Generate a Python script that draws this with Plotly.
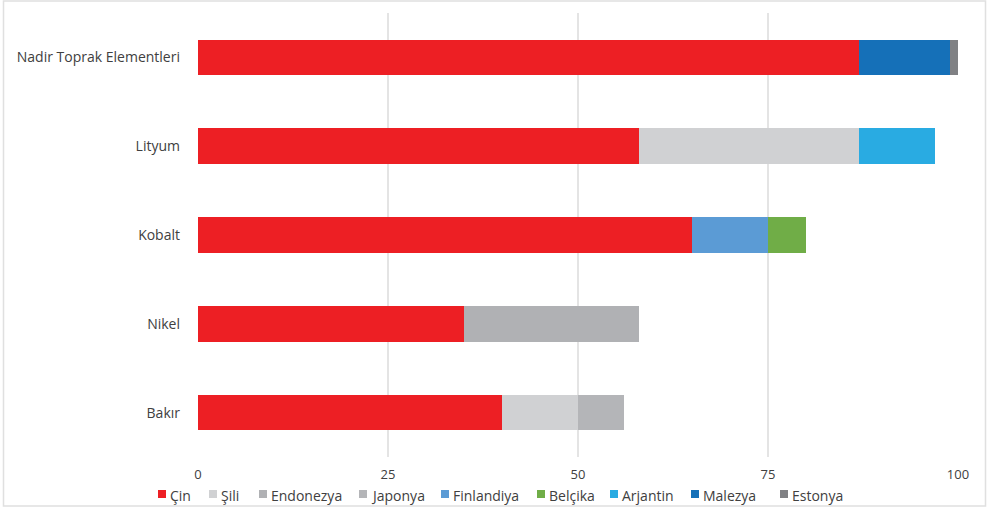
import plotly.graph_objects as go

# Minerals (top to bottom) and each country's share, in percent
minerals = ["Nadir Toprak Elementleri", "Lityum", "Kobalt", "Nikel", "Bakır"]
countries = ["Çin", "Şili", "Endonezya", "Japonya", "Finlandiya", "Belçika", "Arjantin", "Malezya", "Estonya"]

cin = [87, 58, 65, 35, 40]
sili = [0, 29, 0, 0, 10]
endonezya = [0, 0, 0, 23, 0]
japonya = [0, 0, 0, 0, 6]
finlandiya = [0, 0, 10, 0, 0]
belcika = [0, 0, 5, 0, 0]
arjantin = [0, 10, 0, 0, 0]
malezya = [12, 0, 0, 0, 0]
estonya = [1, 0, 0, 0, 0]

series = [cin, sili, endonezya, japonya, finlandiya, belcika, arjantin, malezya, estonya]
colors = ["#ED1F24", "#D0D1D3", "#B0B1B4", "#B4B5B8", "#5B9BD5",
          "#70AD47", "#29ABE2", "#1570B8", "#808184"]

tick_vals = [0, 25, 50, 75, 100]

# Left edge (px) of each legend key, laid out in one row under the axis
legend_x = [158, 209, 259, 359, 441, 537, 610, 691, 780]
LEGEND_Y = 494
KEY = 8

fig = go.Figure()
for name, vals, col in zip(countries, series, colors):
    fig.add_trace(go.Bar(
        y=minerals, x=vals, name=name, orientation="h",
        marker=dict(color=col, line=dict(width=0)),
        width=0.4, showlegend=False,
    ))

W, H = 989, 511
L, R, T, B = 198, 31, 13, 54
pw, ph = W - L - R, H - T - B


def px_x(p):
    return (p - L) / pw


def px_y(p):
    return (H - B - p) / ph


shapes = [dict(
    type="rect", xref="paper", yref="paper",
    x0=px_x(3.5), x1=px_x(985.5), y0=px_y(506), y1=px_y(1),
    line=dict(color="#E0E0E0", width=1.5), fillcolor="rgba(0,0,0,0)",
    layer="below",
)]
annotations = []
for name, col, lx in zip(countries, colors, legend_x):
    shapes.append(dict(
        type="rect", xref="paper", yref="paper",
        x0=px_x(lx), x1=px_x(lx + KEY),
        y0=px_y(LEGEND_Y + KEY / 2), y1=px_y(LEGEND_Y - KEY / 2),
        fillcolor=col, line=dict(width=0),
    ))
    annotations.append(dict(
        text=name, xref="paper", yref="paper",
        x=px_x(lx + KEY + 2), y=px_y(LEGEND_Y + 1),
        xanchor="left", yanchor="middle", showarrow=False,
        font=dict(size=14, color="#404040"),
    ))

fig.update_layout(
    width=W, height=H,
    margin=dict(l=L, r=R, t=T, b=B, pad=0),
    barmode="stack",
    plot_bgcolor="white",
    paper_bgcolor="white",
    font=dict(family="Open Sans, Calibri, sans-serif", size=13, color="#404040"),
    xaxis=dict(
        range=[0, 100], tickvals=tick_vals, showgrid=True,
        gridcolor="#E4E4E4", gridwidth=2, zeroline=False,
        showline=False, ticks="", ticklabelstandoff=8,
        tickfont=dict(size=13, color="#404040"),
    ),
    yaxis=dict(
        categoryorder="array", categoryarray=minerals, autorange="reversed",
        showgrid=False, zeroline=False, ticks="", ticklabelstandoff=17,
        tickfont=dict(size=14, color="#404040"),
    ),
    bargap=0.6,
    showlegend=False,
    shapes=shapes,
    annotations=annotations,
)

fig.write_html("out.html")
